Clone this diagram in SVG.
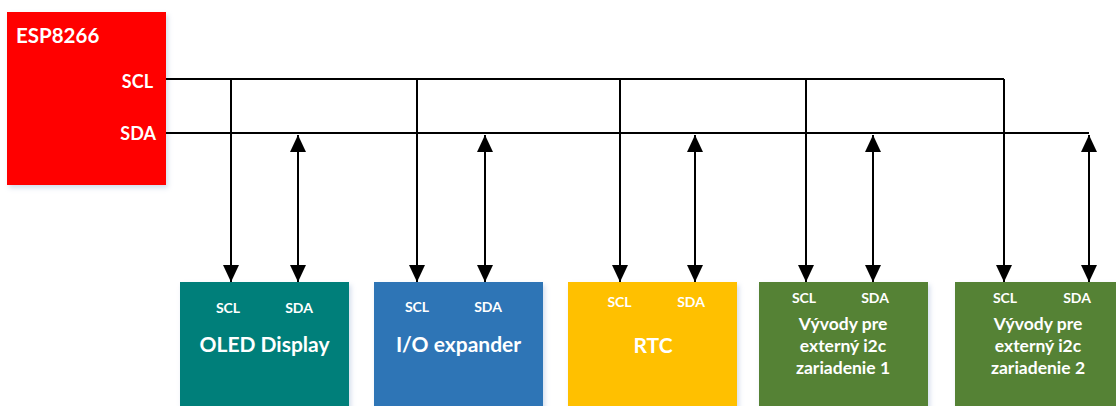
<svg xmlns="http://www.w3.org/2000/svg" width="1116" height="406" viewBox="0 0 1116 406">
  <defs>
    <style>
      .t { font-family: Lato, "Open Sans", "Liberation Sans", sans-serif; font-weight: bold; fill: #ffffff; }
      .pin { font-size: 14px; text-anchor: middle; }
      .big { font-size: 21px; text-anchor: middle; }
      .mid { font-size: 17.5px; text-anchor: middle; }
      .wire { stroke: #000000; stroke-width: 2; fill: none; }
      .shd { filter: url(#shadow); }
    </style>
    <filter id="shadow" x="-10%" y="-10%" width="130%" height="130%">
      <feDropShadow dx="2" dy="3" stdDeviation="2.5" flood-color="#9db3d6" flood-opacity="0.45"/>
    </filter>
    <marker id="arr" viewBox="0 0 17 16" refX="17" refY="8" markerWidth="17" markerHeight="16" markerUnits="userSpaceOnUse" orient="auto-start-reverse">
      <path d="M0,0 L17,8 L0,16 Z" fill="#000000"/>
    </marker>
  </defs>

  <g id="esp8266">
    <rect class="shd" x="7" y="12" width="159" height="173" fill="#ff0000"/>
    <text class="t" x="16" y="43" font-size="20.5">ESP8266</text>
    <text class="t" x="153" y="88" font-size="18" text-anchor="end">SCL</text>
    <text class="t" x="156" y="140" font-size="18" text-anchor="end">SDA</text>
  </g>

  <g id="oled">
    <rect class="shd" x="180" y="282" width="169" height="130" fill="#007f7a"/>
    <text class="t pin" x="228" y="313">SCL</text>
    <text class="t pin" x="299" y="313">SDA</text>
    <text class="t big" x="264.5" y="352">OLED Display</text>
  </g>

  <g id="io-expander">
    <rect class="shd" x="374" y="282" width="169" height="130" fill="#2e75b6"/>
    <text class="t pin" x="417" y="312">SCL</text>
    <text class="t pin" x="488" y="312">SDA</text>
    <text class="t big" x="458.5" y="352">I/O expander</text>
  </g>

  <g id="rtc">
    <rect class="shd" x="568" y="282" width="169" height="130" fill="#ffc000"/>
    <text class="t pin" x="619.5" y="307">SCL</text>
    <text class="t pin" x="691" y="307">SDA</text>
    <text class="t big" x="653" y="353">RTC</text>
  </g>

  <g id="ext1">
    <rect class="shd" x="759" y="282" width="169" height="130" fill="#548235"/>
    <text class="t pin" x="804" y="303">SCL</text>
    <text class="t pin" x="875" y="303">SDA</text>
    <text class="t mid" x="843" y="330">Vývody pre</text>
    <text class="t mid" x="843" y="352">externý i2c</text>
    <text class="t mid" x="843" y="374">zariadenie 1</text>
  </g>

  <g id="ext2">
    <rect class="shd" x="955" y="282" width="169" height="130" fill="#548235"/>
    <text class="t pin" x="1005" y="303">SCL</text>
    <text class="t pin" x="1077" y="303">SDA</text>
    <text class="t mid" x="1038" y="330">Vývody pre</text>
    <text class="t mid" x="1038" y="352">externý i2c</text>
    <text class="t mid" x="1038" y="374">zariadenie 2</text>
  </g>

  <g id="connectors">
    <path class="wire" d="M166,79 H1004"/>
    <path class="wire" d="M166,133 H1089"/>
    <line class="wire" x1="231" y1="79" x2="231" y2="282" marker-end="url(#arr)"/>
    <line class="wire" x1="417" y1="79" x2="417" y2="282" marker-end="url(#arr)"/>
    <line class="wire" x1="620" y1="79" x2="620" y2="282" marker-end="url(#arr)"/>
    <line class="wire" x1="806" y1="79" x2="806" y2="282" marker-end="url(#arr)"/>
    <line class="wire" x1="1004" y1="79" x2="1004" y2="282" marker-end="url(#arr)"/>
    <line class="wire" x1="298" y1="135" x2="298" y2="282" marker-start="url(#arr)" marker-end="url(#arr)"/>
    <line class="wire" x1="485" y1="135" x2="485" y2="282" marker-start="url(#arr)" marker-end="url(#arr)"/>
    <line class="wire" x1="695" y1="135" x2="695" y2="282" marker-start="url(#arr)" marker-end="url(#arr)"/>
    <line class="wire" x1="873" y1="135" x2="873" y2="282" marker-start="url(#arr)" marker-end="url(#arr)"/>
    <line class="wire" x1="1089" y1="135" x2="1089" y2="282" marker-start="url(#arr)" marker-end="url(#arr)"/>
  </g>
</svg>
